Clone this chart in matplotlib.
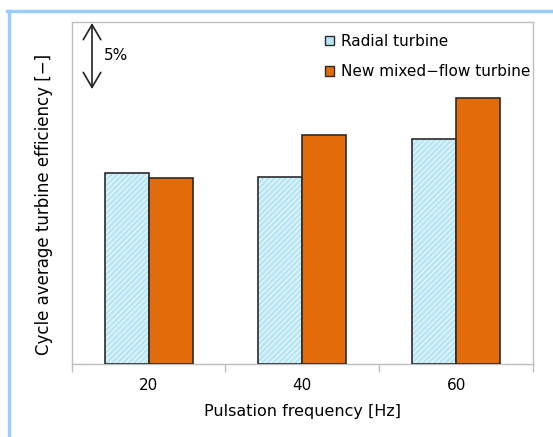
import matplotlib
matplotlib.use("Agg")
import matplotlib.pyplot as plt
from matplotlib.lines import Line2D
import numpy as np

# Data (efficiency, in % above the axis baseline; axis has no numeric scale)
categories = ["20", "40", "60"]
radial = [14.45, 14.14, 17.05]
mixed = [14.07, 17.37, 20.13]
series_names = ["Radial turbine", "New mixed\u2212flow turbine"]

plt.rcParams['font.family'] = ['DejaVu Sans']

fig = plt.figure(figsize=(5.53, 4.37), dpi=100)
ax = fig.add_axes([0.1297, 0.167, 0.9638 - 0.1297, 0.9503 - 0.167])

x = np.arange(len(categories))
w = 0.286
blue_fill = '#b8e5f4'
orange = '#e36c0a'

# hatched radial bars
ax.bar(x - w/2, radial, w, color=blue_fill, hatch='//////', edgecolor='#e4f6fc', linewidth=0, zorder=2)
ax.bar(x - w/2, radial, w, fill=False, edgecolor='#2b2b2b', linewidth=1.2, zorder=3)
ax.bar(x + w/2, mixed, w, color=orange, edgecolor='#2b2b2b', linewidth=1.2, zorder=3)

ax.set_xlim(-0.5, 2.5)
ax.set_ylim(0, 25.93)
ax.set_yticks([])
ax.set_xticks(x)
ax.set_xticklabels(categories, fontsize=11)
ax.tick_params(axis='x', which='major', length=0, pad=10)
ax.set_xticks([-0.5, 0.5, 1.5, 2.5], minor=True)
ax.tick_params(axis='x', which='minor', length=6, color='#bfbfbf', width=1)
for s in ax.spines.values():
    s.set_color('#bfbfbf')
    s.set_linewidth(1.0)

ax.set_xlabel("Pulsation frequency [Hz]", fontsize=11.5, labelpad=8)
ax.set_ylabel("Cycle average turbine efficiency [\u2212]", fontsize=12)
ax.yaxis.set_label_coords(-0.04, 0.465)

# 5% scale arrow
ax.annotate('', xy=(-0.368, 20.83), xytext=(-0.368, 25.83),
            arrowprops=dict(arrowstyle='<->,head_length=0.6,head_width=0.35', color='#222222',
                            lw=1.2, mutation_scale=18, shrinkA=0, shrinkB=0))
ax.text(-0.29, 23.4, "5%", fontsize=11, va='center', ha='left')

handles = [
    plt.Rectangle((0, 0), 1, 1, facecolor=blue_fill, edgecolor='#2b2b2b', linewidth=1),
    plt.Rectangle((0, 0), 1, 1, facecolor=orange, edgecolor='#2b2b2b', linewidth=1),
]
ax.legend(handles, series_names, loc='upper right', bbox_to_anchor=(1.02, 1.0),
          frameon=False, fontsize=11, handlelength=0.6, handleheight=0.6,
          handletextpad=0.4, labelspacing=1.0, borderaxespad=0.4)

# light blue page frame (top and left)
fc = '#99ccff'
fig.add_artist(Line2D([7/553, 1], [1 - 10.5/437, 1 - 10.5/437], color=fc, lw=2.4, transform=fig.transFigure))
fig.add_artist(Line2D([8.5/553, 8.5/553], [0, 1 - 10.5/437], color=fc, lw=2.4, transform=fig.transFigure))

fig.savefig("out.png", dpi=100)
